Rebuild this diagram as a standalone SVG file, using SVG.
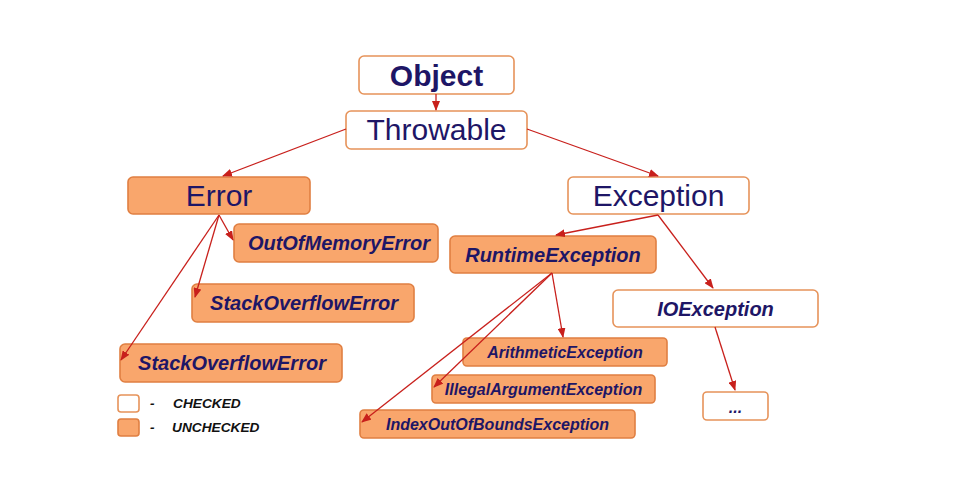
<svg xmlns="http://www.w3.org/2000/svg" width="974" height="499" viewBox="0 0 974 499">
<defs>
<marker id="ah" markerWidth="10" markerHeight="8" refX="9" refY="4" orient="auto" markerUnits="userSpaceOnUse">
<path d="M0,0 L10,4 L0,8 z" fill="#c8201c"/>
</marker>
<style>
.chk{fill:#ffffff;stroke:#e6935a;stroke-width:1.6}
.unc{fill:#f9a66c;stroke:#e07f42;stroke-width:1.6}
.t{font-family:"Liberation Sans",Arial,sans-serif;fill:#1e1666;text-anchor:middle}
.big{font-size:30px}
.mid{font-size:20px;font-weight:bold;font-style:italic}
.sm{font-size:16px;font-weight:bold;font-style:italic}
.lg{font-family:"Liberation Sans",Arial,sans-serif;font-size:13.7px;font-weight:bold;font-style:italic;fill:#111}
.c{stroke:#c8201c;stroke-width:1.3;fill:none;marker-end:url(#ah)}
</style>
</defs>
<rect width="974" height="499" fill="#ffffff"/>
<g id="object"><rect class="chk" x="359" y="56" width="155" height="38" rx="5"/><text class="t big" x="436.5" y="86" font-weight="bold">Object</text></g>
<g id="throwable"><rect class="chk" x="346" y="111" width="181" height="38" rx="5"/><text class="t big" x="436.5" y="140">Throwable</text></g>
<g id="error"><rect class="unc" x="128" y="177" width="182" height="37" rx="5"/><text class="t big" x="219" y="206">Error</text></g>
<g id="exception"><rect class="chk" x="568" y="177" width="181" height="37" rx="5"/><text class="t big" x="658.5" y="206">Exception</text></g>
<g id="outofmemory"><rect class="unc" x="234" y="224" width="204" height="38" rx="5"/><text class="t mid" x="339" y="250">OutOfMemoryError</text></g>
<g id="stackoverflow1"><rect class="unc" x="192" y="284" width="222" height="38" rx="5"/><text class="t mid" x="304" y="310">StackOverflowError</text></g>
<g id="stackoverflow2"><rect class="unc" x="120" y="344" width="222" height="38" rx="5"/><text class="t mid" x="232" y="370">StackOverflowError</text></g>
<g id="runtime"><rect class="unc" x="450" y="236" width="206" height="37" rx="5"/><text class="t mid" x="553" y="262">RuntimeException</text></g>
<g id="ioexception"><rect class="chk" x="613" y="290" width="205" height="37" rx="5"/><text class="t mid" x="715.5" y="316">IOException</text></g>
<g id="arithmetic"><rect class="unc" x="463" y="338" width="204" height="28" rx="4"/><text class="t sm" x="565" y="358">ArithmeticException</text></g>
<g id="illegalargument"><rect class="unc" x="432" y="375" width="223" height="28" rx="4"/><text class="t sm" x="543.5" y="395">IllegalArgumentException</text></g>
<g id="indexoutofbounds"><rect class="unc" x="360" y="410" width="275" height="28" rx="4"/><text class="t sm" x="497.5" y="430">IndexOutOfBoundsException</text></g>
<g id="more"><rect class="chk" x="703" y="392" width="65" height="28" rx="4"/><text class="t sm" x="735.5" y="413">...</text></g>
<g id="legend">
<rect class="chk" x="118" y="395" width="21" height="17" rx="3"/>
<text class="lg" x="150" y="408">-</text>
<text class="lg" x="173" y="408">CHECKED</text>
<rect class="unc" x="118" y="419" width="21" height="17" rx="3"/>
<text class="lg" x="150" y="432">-</text>
<text class="lg" x="172" y="432">UNCHECKED</text>
</g>
<g id="connectors">
<line class="c" x1="436" y1="94" x2="436" y2="110"/>
<line class="c" x1="346" y1="129" x2="223" y2="176"/>
<line class="c" x1="527" y1="129" x2="658" y2="176"/>
<line class="c" x1="219" y1="215" x2="233" y2="240"/>
<line class="c" x1="219" y1="215" x2="195" y2="297"/>
<line class="c" x1="219" y1="215" x2="121" y2="360"/>
<line class="c" x1="658" y1="215" x2="556" y2="235"/>
<line class="c" x1="658" y1="215" x2="713" y2="288"/>
<line class="c" x1="552" y1="273" x2="563" y2="337"/>
<line class="c" x1="552" y1="273" x2="434" y2="387"/>
<line class="c" x1="552" y1="273" x2="362" y2="422"/>
<line class="c" x1="715" y1="327" x2="735" y2="390"/>
</g>
</svg>
